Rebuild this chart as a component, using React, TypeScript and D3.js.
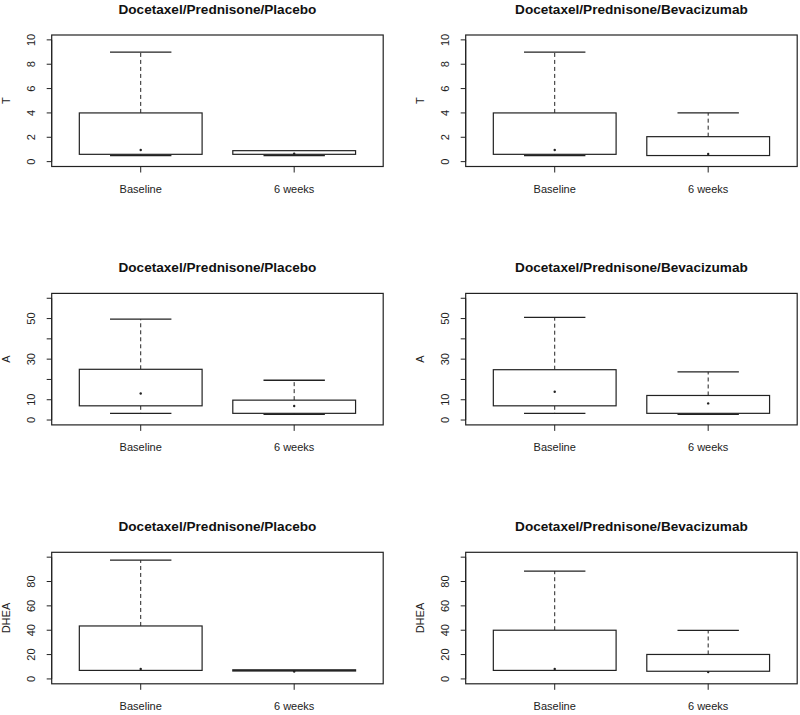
import React from "react";
import * as d3 from "d3";

// ---- data ----
const groups = ["Baseline", "6 weeks"];
const arms = ["Docetaxel/Prednisone/Placebo", "Docetaxel/Prednisone/Bevacizumab"];
const measures = ["T", "A", "DHEA"];

const yLimits = [
  [0, 10],
  [0, 60],
  [0, 100],
];
const yTicks = [
  [0, 2, 4, 6, 8, 10],
  [0, 10, 20, 30, 40, 50, 60],
  [0, 20, 40, 60, 80, 100],
];
const yTickLabels = [
  ["0", "2", "4", "6", "8", "10"],
  ["0", "10", "", "30", "", "50", ""],
  ["0", "20", "40", "60", "80", ""],
];

// per measure, per arm: [Baseline, 6 weeks]
const whiskerLow = [
  [[0.5, 0.5], [0.5, 0.5]],
  [[3.3, 2.8], [3.3, 2.8]],
  [[7, 6.5], [7, 6.3]],
];
const boxLow = [
  [[0.6, 0.6], [0.6, 0.5]],
  [[7, 3.3], [7, 3.3]],
  [[7, 6.5], [7, 6.3]],
];
const boxHigh = [
  [[4, 0.9], [4, 2.05]],
  [[25, 9.8], [24.8, 12.1]],
  [[43.5, 7.5], [40, 20.1]],
];
const whiskerHigh = [
  [[9, 0.9], [9, 4]],
  [[49.7, 19.6], [50.6, 23.7]],
  [[97.5, 7.5], [88.6, 39.8]],
];
const means = [
  [[0.96, 0.65], [0.96, 0.63]],
  [[13.1, 6.9], [13.9, 8.2]],
  [[8.2, 6], [8.2, 5.6]],
];

// ---- layout ----
const W = 800;
const H = 715;
const colLeft = [51.7, 465.7];
const plotW = 331.5;
const rowTop = [35, 293.4, 552.3];
const plotH = 131.5;
const ink = "#222";
const font = "'Liberation Sans', Arial, sans-serif";

function Panel({ m, a }: { m: number; a: number }) {
  const left = colLeft[a];
  const top = rowTop[m];
  const [lo, hi] = yLimits[m];
  const pad = (hi - lo) * 0.04;
  const y = d3.scaleLinear().domain([lo - pad, hi + pad]).range([top + plotH, top]);
  const x = d3.scaleLinear().domain([0.42, 2.58]).range([left, left + plotW]);
  const boxHalf = (x(1.4) - x(1)) ;
  const capHalf = (x(1.2) - x(1));
  const bottom = top + plotH;
  const ticks = yTicks[m];
  return (
    <g>
      <text
        x={left + plotW / 2}
        y={top - 21}
        textAnchor="middle"
        fontFamily={font}
        fontWeight="bold"
        fontSize={13.6}
        fill="#111"
      >
        {arms[a]}
      </text>
      <rect x={left} y={top} width={plotW} height={plotH} fill="none" stroke={ink} strokeWidth={1.2} />
      {/* y axis */}
      <line x1={left} x2={left} y1={y(ticks[0])} y2={y(ticks[ticks.length - 1])} stroke={ink} strokeWidth={1} />
      {ticks.map((t, i) => (
        <g key={"yt" + i}>
          <line x1={left - 5} x2={left} y1={y(t)} y2={y(t)} stroke={ink} strokeWidth={1} />
          {yTickLabels[m][i] !== "" && (
            <text
              transform={`translate(${left - 16.5},${y(t)}) rotate(-90)`}
              textAnchor="middle"
              fontFamily={font}
              fontSize={11}
              fill="#222"
            >
              {yTickLabels[m][i]}
            </text>
          )}
        </g>
      ))}
      <text
        transform={`translate(${left - 41.5},${top + plotH / 2}) rotate(-90)`}
        textAnchor="middle"
        fontFamily={font}
        fontSize={11}
        fill="#222"
      >
        {measures[m]}
      </text>
      {/* x axis */}
      {groups.map((g, gi) => (
        <g key={"xt" + gi}>
          <line x1={x(gi + 1)} x2={x(gi + 1)} y1={bottom} y2={bottom + 6} stroke={ink} strokeWidth={1} />
          <text x={x(gi + 1)} y={bottom + 26} textAnchor="middle" fontFamily={font} fontSize={11} fill="#222">
            {g}
          </text>
        </g>
      ))}
      {/* boxes */}
      {groups.map((g, gi) => {
        const cx = x(gi + 1);
        const wl = whiskerLow[m][a][gi];
        const bl = boxLow[m][a][gi];
        const bh = boxHigh[m][a][gi];
        const wh = whiskerHigh[m][a][gi];
        const mu = means[m][a][gi];
        return (
          <g key={"b" + gi}>
            {wh > bh && (
              <>
                <line x1={cx} x2={cx} y1={y(bh)} y2={y(wh)} stroke={ink} strokeWidth={1} strokeDasharray="4,3" />
                <line x1={cx - capHalf} x2={cx + capHalf} y1={y(wh)} y2={y(wh)} stroke={ink} strokeWidth={1.3} />
              </>
            )}
            {wl < bl && (
              <>
                <line x1={cx} x2={cx} y1={y(bl)} y2={y(wl)} stroke={ink} strokeWidth={1} strokeDasharray="4,3" />
                <line x1={cx - capHalf} x2={cx + capHalf} y1={y(wl)} y2={y(wl)} stroke={ink} strokeWidth={1.3} />
              </>
            )}
            <rect
              x={cx - boxHalf}
              y={y(bh)}
              width={boxHalf * 2}
              height={Math.max(0.5, y(bl) - y(bh))}
              fill="white"
              stroke={ink}
              strokeWidth={1.2}
            />
            <circle cx={cx} cy={y(mu)} r={1.2} fill={ink} />
          </g>
        );
      })}
    </g>
  );
}

export default function App() {
  return (
    <svg
      width={W}
      height={H}
      viewBox={`0 0 ${W} ${H}`}
      style={{ position: "absolute", left: 0, top: 0, background: "white" }}
    >
      <rect x={0} y={0} width={W} height={H} fill="white" />
      {measures.map((_, m) =>
        arms.map((__, a) => <Panel key={m + "-" + a} m={m} a={a} />)
      )}
    </svg>
  );
}
